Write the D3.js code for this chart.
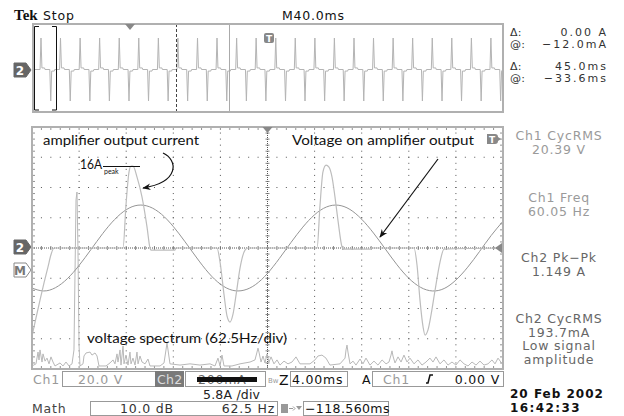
<!DOCTYPE html>
<html>
<head>
<meta charset="utf-8">
<script src="https://cdn.jsdelivr.net/npm/d3@7"></script>
<style>
  body { margin: 0; background: #fff; }
  svg { display: block; }
</style>
</head>
<body>
<svg id="scope" width="624" height="416"></svg>
<script>
// ---- data ----
// Ch1 voltage, one sample per ms over the 40 ms window (V)
const voltTimes = d3.range(0, 41);
const voltValues = [-26.5, -28.4, -26.2, -20.3, -11.5, -1.1, 9.5, 18.7, 25.3, 28.3,
  27.2, 22.3, 14.2, 4.1, -6.6, -16.5, -23.9, -27.9, -27.9, -24.1,
  -16.8, -7.0, 3.7, 13.8, 22.0, 27.1, 28.3, 25.5, 19.0, 9.9,
  -0.6, -11.1, -20.0, -26.0, -28.4, -26.8, -21.2, -12.7, -2.4, 8.3, 17.7];

// Ch2 amplifier current (ms, A)
const currentTimes = [0, 0.34, 0.68, 1.02, 1.36, 1.61, 1.87,
  7.73, 7.98, 8.24, 8.41, 8.58, 8.92, 9.34, 9.77, 10.02, 10.11, 12.14, 12.23,
  15.71, 15.97, 16.31, 16.56, 16.82, 17.07, 17.33, 17.67, 18.09, 18.34,
  24.21, 24.46, 24.71, 24.97, 25.22, 25.48, 25.73, 25.99, 26.33, 26.42, 28.71, 28.79,
  32.44, 32.70, 32.95, 33.21, 33.38, 33.63, 33.89, 34.23, 34.65, 34.99, 40];
const currentValues = [-16.9, -13.4, -10.0, -6.7, -3.6, -1.3, 0,
  0, 8.2, 14.6, 15.7, 15.7, 13.6, 9.8, 4.0, 0, -0.4, -0.4, 0,
  0, -2.7, -9.0, -13.0, -14.2, -12.7, -9.0, -3.8, -0.4, 0,
  0, 8.2, 14.6, 15.9, 15.5, 13.6, 9.8, 5.2, 0.2, -0.2, -0.2, 0,
  0, -3.3, -10.0, -15.1, -16.7, -15.7, -12.8, -8.1, -2.7, -0.2, 0];

// Math: voltage spectrum (Hz, dB)
const specHz = [0, 5.3, 8.0, 9.3, 10.6, 13.3, 14.6, 17.3, 19.9, 22.6, 25.2, 27.9, 30.5, 37.2, 41.1, 45.1, 49.1,
  53.1, 55.7, 58.4, 59.7, 61.0, 62.4, 63.7, 67.7, 69.0, 71.7, 77.0, 79.6, 83.6, 86.3, 88.9, 98.2,
  103.5, 107.5, 110.1, 112.8, 114.1, 116.8, 118.1, 120.8, 122.1, 124.7, 127.4, 130.0, 131.4, 134.0,
  136.7, 139.3, 140.7, 143.3, 146.0, 150.0, 153.9, 156.6, 169.9, 175.2, 177.8, 179.1, 180.5, 183.1,
  196.4, 209.7, 222.9, 236.2, 242.8, 246.8, 249.5, 252.1, 254.8, 265.4, 276.0, 289.3, 295.9, 298.6,
  299.9, 301.2, 303.9, 306.5, 309.2, 311.8, 314.5, 317.2, 321.1, 325.1, 329.1, 334.4, 339.7, 345.0,
  350.3, 355.6, 368.9, 375.5, 379.5, 384.8, 390.1, 395.4, 408.7, 415.4, 416.7, 418.0, 419.3, 422.0,
  426.0, 429.9, 435.3, 439.2, 443.2, 448.5, 453.8, 459.1, 464.5, 469.8, 473.7, 476.4, 477.7, 479.0,
  481.7, 485.7, 489.7, 493.6, 497.6, 501.6, 506.9, 512.2, 517.5, 522.8, 528.1, 532.1, 536.1, 541.4,
  546.7, 552.0, 557.3, 562.6, 568.0, 573.3, 578.6, 583.9, 589.2, 594.5, 599.8, 605.1, 610.4, 614.4,
  618.4, 625.0];
const specDb = [-39.0, -38.3, -34.4, -37.0, -33.7, -37.7, -35.0, -37.4, -36.4, -38.3, -36.0, -37.7, -39.0, -38.0, -39.0, -37.7, -39.0,
  -38.3, -33.7, 15.9, 18.5, -0.7, -32.1, -39.0, -38.3, -35.7, -34.7, -34.4, -35.4, -34.7, -35.7, -39.0, -39.0,
  -38.0, -37.0, -38.3, -35.0, -37.7, -33.7, -38.7, -32.4, -38.3, -35.4, -38.7, -34.4, -38.3, -36.4,
  -38.7, -34.4, -38.3, -35.7, -37.7, -38.3, -36.7, -39.0, -39.0, -38.0, -33.7, -31.4, -33.7, -38.3,
  -38.7, -38.3, -38.7, -38.3, -39.0, -36.4, -39.0, -35.4, -39.0, -39.0, -38.3, -37.7, -37.0, -34.4,
  -33.1, -34.4, -37.7, -35.7, -38.0, -35.0, -37.7, -36.0, -38.3, -37.0, -38.7, -37.4, -38.3, -37.7,
  -36.0, -38.3, -38.3, -37.0, -35.7, -35.4, -36.4, -38.7, -38.3, -36.4, -33.7, -32.1, -34.4, -38.3,
  -37.4, -38.7, -36.7, -38.3, -36.4, -38.7, -37.4, -38.7, -37.0, -38.3, -37.7, -35.4, -34.0, -35.7,
  -38.0, -36.0, -37.7, -35.4, -37.7, -36.4, -38.3, -37.0, -38.7, -37.7, -36.4, -37.7, -36.0, -38.3,
  -37.0, -38.7, -37.7, -38.7, -37.0, -38.3, -39.0, -37.7, -38.7, -37.4, -38.7, -38.3, -37.0, -38.3,
  -36.4, -38.7];

// record overview: positive / negative current pulse times (ms)
const overviewUp = [6.8, 23.4, 40.1, 56.7, 73.4, 90.0, 106.7, 123.3, 140.0, 156.6, 173.3, 189.9,
  206.6, 223.2, 239.9, 256.5, 273.2, 289.8, 306.5, 323.1, 339.8, 356.4, 373.1, 389.7];
const overviewDown = [15.1, 31.7, 48.4, 65.0, 81.7, 98.3, 115.0, 131.6, 148.3, 164.9, 181.6, 198.2,
  214.9, 231.5, 248.2, 264.8, 281.5, 298.1, 314.8, 331.4, 348.1, 364.7, 381.4, 398.0];

const cursorReadout = [['\u0394:', '0.00 A'], ['@:', '\u221212.0mA'], ['\u0394:', '45.0ms'], ['@:', '\u221233.6ms']];
const measurements = [
  { lines: ['Ch1 CycRMS', '20.39 V'], ch: 1 },
  { lines: ['Ch1 Freq', '60.05 Hz'], ch: 1 },
  { lines: ['Ch2 Pk\u2212Pk', '1.149 A'], ch: 2 },
  { lines: ['Ch2 CycRMS', '193.7mA', 'Low signal', 'amplitude'], ch: 2 },
];

// ---- layout ----
const X0 = 32, X1 = 503, Y0 = 127, Y1 = 369;
const font = "'DejaVu Sans', sans-serif";
const ann = "'Lato', 'DejaVu Sans', sans-serif";

const svg = d3.select('#scope');

const x = d3.scaleLinear().domain([0, 40]).range([X0, X1]);
const yVolt = d3.scaleLinear().domain([-80, 80]).range([Y1, Y0]);
const yAmp = d3.scaleLinear().domain([-23.2, 23.2]).range([Y1, Y0]);
const xHz = d3.scaleLinear().domain([0, 625]).range([X0, X1]);
const yDb = d3.scaleLinear().domain([-40, 40]).range([Y1, Y0]);

const defs = svg.append('defs');
defs.append('clipPath').attr('id', 'clip')
  .append('rect').attr('x', X0).attr('y', Y0).attr('width', X1 - X0).attr('height', Y1 - Y0);
defs.append('marker').attr('id', 'head')
  .attr('viewBox', '0 0 10 10').attr('refX', 9).attr('refY', 5)
  .attr('markerWidth', 7).attr('markerHeight', 7).attr('orient', 'auto')
  .append('path').attr('d', 'M0,1 L10,5 L0,9 L3,5 Z').attr('fill', '#111');

// ---- top: record overview ----
const OX0 = 33, OX1 = 503, OY0 = 24, OY1 = 112;
const xOv = d3.scaleLinear().domain([0, 400]).range([OX0, OX1]);
const yOv = d3.scaleLinear().domain([-16, 16]).range([101, 38]);

const ovPts = [[0, 0]];
overviewUp.forEach((t, i) => {
  ovPts.push([t - 0.8, 0], [t, 16], [t + 0.8, 0.8], [t + 3, 0.8], [t + 3.4, 0]);
  const d = overviewDown[i];
  ovPts.push([d - 0.8, 0], [d, -16], [d + 0.8, -0.8], [d + 3, -0.8], [d + 3.4, 0]);
});
ovPts.push([400, 0]);
svg.append('path')
  .attr('d', d3.line().x(d => xOv(d[0])).y(d => yOv(d[1]))(ovPts.filter(d => d[0] <= 400)))
  .attr('fill', 'none').attr('stroke', '#b4b4b4').attr('stroke-width', 1);

svg.append('line').attr('x1', 176.5).attr('x2', 176.5).attr('y1', OY0).attr('y2', OY1)
  .attr('stroke', '#444').attr('stroke-dasharray', '3,2');
svg.append('line').attr('x1', 229.5).attr('x2', 229.5).attr('y1', OY0).attr('y2', OY1)
  .attr('stroke', '#aaa');
svg.append('rect').attr('x', OX0).attr('y', OY0).attr('width', OX1 - OX0).attr('height', OY1 - OY0)
  .attr('fill', 'none').attr('stroke', '#b0b0b0').attr('stroke-width', 2);
svg.append('path').attr('d', 'M39,26.5 H34.5 V110 H39 M52,26.5 H56.5 V110 H52')
  .attr('fill', 'none').attr('stroke', '#111').attr('stroke-width', 1);
svg.append('path').attr('d', 'M125,24 L135,24 L130,30 Z').attr('fill', '#888');
// trigger marker on overview
svg.append('rect').attr('x', 264).attr('y', 33).attr('width', 10).attr('height', 10).attr('rx', 2).attr('fill', '#888');
svg.append('text').attr('x', 269).attr('y', 42).attr('text-anchor', 'middle')
  .attr('font-family', font).attr('font-size', 9).attr('font-weight', 'bold').attr('fill', '#fff').text('T');

// channel markers
function chanMarker(y, label, dark) {
  const g = svg.append('g');
  g.append('path').attr('d', `M14,${y - 7} H26 L31,${y} L26,${y + 7} H14 Z`)
    .attr('fill', dark ? '#666' : '#fff').attr('stroke', dark ? '#666' : '#888');
  g.append('text').attr('x', 20).attr('y', y + 5).attr('text-anchor', 'middle')
    .attr('font-family', font).attr('font-size', 12).attr('font-weight', 'bold')
    .attr('fill', dark ? '#fff' : '#777').text(label);
}
chanMarker(70, '2', true);
chanMarker(247, '2', true);
chanMarker(270, 'M', false);

// ---- main graticule ----
const grid = svg.append('g');
const majorT = d3.range(0, 41, 4);
const minorT = d3.range(0, 40.01, 0.8);
const majorV = d3.range(-80, 81, 20);
const minorV = d3.range(-80, 80.01, 4);

// dotted grid lines
majorV.slice(1, -1).forEach(v => {
  if (v === 0) return;
  grid.selectAll(null).data(minorT.slice(1, -1)).join('rect')
    .attr('x', t => x(t) - 0.5).attr('y', yVolt(v) - 0.5).attr('width', 1).attr('height', 1).attr('fill', '#555');
});
majorT.slice(1, -1).forEach(t => {
  if (t === 20) return;
  grid.selectAll(null).data(minorV.slice(1, -1)).join('rect')
    .attr('x', x(t) - 0.5).attr('y', v => yVolt(v) - 0.5).attr('width', 1).attr('height', 1).attr('fill', '#555');
});
// centre cross with ticks
grid.append('line').attr('x1', X0).attr('x2', X1).attr('y1', yVolt(0)).attr('y2', yVolt(0))
  .attr('stroke', '#555').attr('stroke-dasharray', '1,1');
grid.append('line').attr('x1', x(20)).attr('x2', x(20)).attr('y1', Y0).attr('y2', Y1)
  .attr('stroke', '#555').attr('stroke-dasharray', '1,1');
grid.selectAll(null).data(minorT).join('line')
  .attr('x1', t => x(t)).attr('x2', t => x(t)).attr('y1', yVolt(0) - 2).attr('y2', yVolt(0) + 2)
  .attr('stroke', '#666').attr('stroke-width', 0.8);
grid.selectAll(null).data(minorV).join('line')
  .attr('x1', x(20) - 2).attr('x2', x(20) + 2).attr('y1', v => yVolt(v)).attr('y2', v => yVolt(v))
  .attr('stroke', '#666').attr('stroke-width', 0.8);
// edge ticks
grid.selectAll(null).data(minorT).join('path')
  .attr('d', t => `M${x(t)},${Y0} v3 M${x(t)},${Y1} v-3`).attr('stroke', '#777').attr('stroke-width', 0.8);
grid.selectAll(null).data(minorV).join('path')
  .attr('d', v => `M${X0},${yVolt(v)} h3 M${X1},${yVolt(v)} h-3`).attr('stroke', '#777').attr('stroke-width', 0.8);

// ---- traces ----
const traces = svg.append('g').attr('clip-path', 'url(#clip)');

traces.append('path')
  .attr('d', d3.line().x((d, i) => xHz(specHz[i])).y(d => yDb(d))(specDb))
  .attr('fill', 'none').attr('stroke', '#b8b8b8').attr('stroke-width', 1);

traces.append('path')
  .attr('d', d3.line().curve(d3.curveNatural).x((d, i) => x(voltTimes[i])).y(d => yVolt(d))(voltValues))
  .attr('fill', 'none').attr('stroke', '#959595').attr('stroke-width', 1);

traces.append('path')
  .attr('d', d3.line().curve(d3.curveMonotoneX).x((d, i) => x(currentTimes[i])).y(d => yAmp(d))(currentValues))
  .attr('fill', 'none').attr('stroke', '#bdbdbd').attr('stroke-width', 1.2);

svg.append('rect').attr('x', X0).attr('y', Y0).attr('width', X1 - X0).attr('height', Y1 - Y0)
  .attr('fill', 'none').attr('stroke', '#b0b0b0').attr('stroke-width', 2);

// markers on graticule
svg.append('path').attr('d', `M${x(20) - 5},${Y0} L${x(20) + 5},${Y0} L${x(20)},${Y0 + 6} Z`).attr('fill', '#888');
svg.append('path').attr('d', `M${X1 - 1},${yVolt(0) - 5} L${X1 - 1},${yVolt(0) + 5} L${X1 - 8},${yVolt(0)} Z`).attr('fill', '#888');
svg.append('path').attr('d', 'M487,134 h8 a3,3 0 0 1 3,3 l3,2 l-3,2 a3,3 0 0 1 -3,3 h-8 Z').attr('fill', '#888');
svg.append('text').attr('x', 492).attr('y', 143).attr('text-anchor', 'middle')
  .attr('font-family', font).attr('font-size', 9).attr('font-weight', 'bold').attr('fill', '#fff').text('T');

// ---- annotations ----
function annText(tx, ty, str, len, size) {
  return svg.append('text').attr('x', tx).attr('y', ty).attr('font-family', ann)
    .attr('font-size', size).attr('fill', '#111')
    .attr('textLength', len).attr('lengthAdjust', 'spacingAndGlyphs').text(str);
}
annText(43, 145, 'amplifier output current', 156, 14);
annText(292, 145, 'Voltage on amplifier output', 182, 14);
annText(87, 343, 'voltage spectrum (62.5Hz/div)', 200, 14);
annText(80, 169, '16A', 22, 14);
svg.append('text').attr('x', 104).attr('y', 174).attr('font-family', ann).attr('font-size', 7)
  .attr('fill', '#111').text('peak');
svg.append('line').attr('x1', 103).attr('x2', 140).attr('y1', 166.5).attr('y2', 166.5).attr('stroke', '#111');
svg.append('path').attr('d', 'M163,153 C178,160 180,182 143,188')
  .attr('fill', 'none').attr('stroke', '#111').attr('stroke-width', 1.2).attr('marker-end', 'url(#head)');
svg.append('path').attr('d', 'M438,159 L380,237')
  .attr('fill', 'none').attr('stroke', '#111').attr('stroke-width', 1.2).attr('marker-end', 'url(#head)');

// ---- readouts ----
function label(tx, ty, str, opts = {}) {
  return svg.append('text').attr('x', tx).attr('y', ty)
    .attr('font-family', font).attr('font-size', opts.size || 12.5)
    .attr('letter-spacing', opts.ls === undefined ? 0.8 : opts.ls)
    .attr('text-anchor', opts.anchor || 'start')
    .attr('font-weight', opts.weight || 'normal')
    .attr('fill', opts.fill || '#222').text(str);
}
svg.append('text').attr('x', 14).attr('y', 20).attr('font-family', "'Liberation Serif', serif")
  .attr('font-size', 15).attr('font-weight', 'bold').attr('fill', '#111').text('Tek');
label(43, 20, 'Stop', { fill: '#111' });
label(282, 20, 'M40.0ms', { fill: '#111' });

cursorReadout.forEach((r, i) => {
  const ty = [36, 48, 70, 82][i];
  label(510, ty, r[0], { fill: '#333', ls: 0.3, size: 11 });
  label(608, ty, r[1], { fill: '#333', anchor: 'end', size: 11, ls: 2 });
});

const mTops = [140, 202, 262, 323];
measurements.forEach((m, i) => {
  m.lines.forEach((s, j) => {
    label(559, mTops[i] + j * 13.5, s, { anchor: 'middle', fill: m.ch === 1 ? '#9a9a9a' : '#666' });
  });
});

label(510, 398, '20 Feb  2002', { fill: '#111', weight: 'bold', ls: 1, size: 12 });
label(510, 412, '16:42:33', { fill: '#111', weight: 'bold', ls: 1.4, size: 12 });

// status line
const box = (bx, by, bw, bh, fill) => svg.append('rect').attr('x', bx + 0.5).attr('y', by + 0.5)
  .attr('width', bw).attr('height', bh).attr('fill', fill || 'none').attr('stroke', '#999');
label(33, 384, 'Ch1', { fill: '#999' });
box(62, 371, 93, 15);
label(78, 384, '20.0 V', { fill: '#999' });
svg.append('rect').attr('x', 155).attr('y', 371).attr('width', 29).attr('height', 16).attr('fill', '#7a7a7a');
label(157, 384, 'Ch2', { fill: '#ddd', ls: 0.3 });
box(185, 371, 80, 15);
label(198, 384, '200mA', { fill: '#666' });
svg.append('rect').attr('x', 197).attr('y', 377).attr('width', 60).attr('height', 5).attr('fill', '#111');
label(268, 383, 'Bw', { fill: '#999', size: 7, ls: 0 });
label(279, 385, 'Z', { fill: '#111', size: 14 });
box(290, 371, 57, 15);
label(292, 384, '4.00ms', { fill: '#111' });
label(362, 384, 'A', { fill: '#111' });
box(372, 371, 131, 15);
label(383, 384, 'Ch1', { fill: '#999' });
svg.append('path').attr('d', 'M426,383 h2 l2,-8 h3').attr('fill', 'none').attr('stroke', '#111').attr('stroke-width', 1.5);
label(500, 384, '0.00 V', { fill: '#111', anchor: 'end' });

label(203, 399, '5.8A /div', { fill: '#222', ls: 0.2 });
label(32, 413, 'Math', { fill: '#444' });
box(90, 401, 187, 14);
label(120, 413, '10.0 dB', { fill: '#333' });
label(275, 413, '62.5 Hz', { fill: '#333', anchor: 'end' });
svg.append('rect').attr('x', 281).attr('y', 404).attr('width', 7).attr('height', 9).attr('fill', '#999');
svg.append('path').attr('d', 'M289,408.5 h4 M293,406.5 l2,2 l-2,2').attr('fill', 'none').attr('stroke', '#999');
svg.append('path').attr('d', 'M296,406 h6 l-3,4 Z').attr('fill', '#999');
box(303, 401, 85, 14);
label(305, 413, '\u2212118.560ms', { fill: '#111', ls: 0.4 });
</script>
</body>
</html>
